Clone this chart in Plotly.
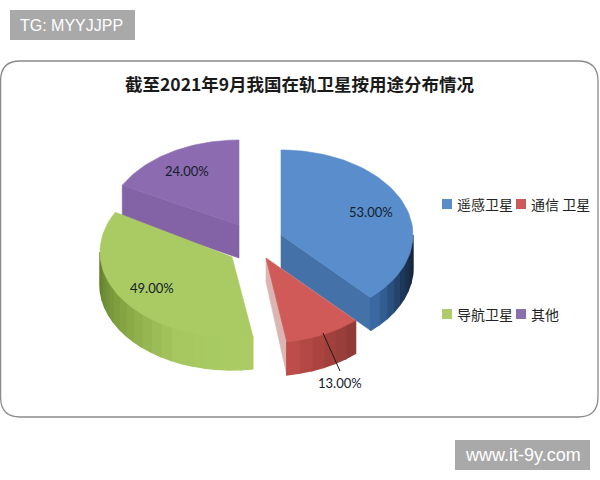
import math
import plotly.graph_objects as go

categories = ["遥感卫星", "通信卫星", "导航卫星", "其他"]
legend_labels = ["遥感卫星", "通信 卫星", "导航卫星", "其他"]
values = [53, 13, 49, 24]
title_text = "截至2021年9月我国在轨卫星按用途分布情况"

# style and layout (the canvas uses pixel-sized axis units)
RX, RY, DEPTH = 132, 85, 33
apexes = [(281, 235), (266, 258), (232, 257), (239, 225)]
arc_shift = [0, 0, -5, 0]
top_colors = ["#5a8dcb", "#cf5a57", "#aacb63", "#8c6bb0"]
radial_colors = ["#4472a8", None, None, "#8462a6"]
wall_stops = [
    [(90, "#2c4058"), (98, "#16243a"), (115, "#1f3a5e"), (128, "#2f5a8e"), (137.3, "#3f6fa8")],
    [(137, "#8c3a38"), (155, "#a8423f"), (171, "#c24f4c")],
    [(170, "#abcd65"), (205, "#a6c75f"), (240, "#80a040"), (271, "#5f7d2c")],
    None,
]
legend_colors = ["#5b8ec9", "#cc5a58", "#b0cb6b", "#8a6fae"]
legend_pos = [(447, 204), (521, 204), (447, 314), (521, 314)]
label_pos = [(371, 212), (340, 383), (152, 288), (187, 171)]
leader = ((323, 333), (340, 371))
CJK = "Noto Sans CJK SC"


def hex_rgb(c):
    return [int(c[i:i + 2], 16) for i in (1, 3, 5)]


def mix(stops, a):
    if a <= stops[0][0]:
        return stops[0][1]
    for (a0, c0), (a1, c1) in zip(stops, stops[1:]):
        if a <= a1:
            t = (a - a0) / (a1 - a0)
            r = [round(p + (q - p) * t) for p, q in zip(hex_rgb(c0), hex_rgb(c1))]
            return "rgb(%d,%d,%d)" % tuple(r)
    return stops[-1][1]


def pt(apex, a, dy=0):
    r = math.radians(a)
    return apex[0] + RX * math.sin(r), apex[1] - RY * math.cos(r) + dy


def poly(fig, pts, color, lw=0.6):
    xs = [p[0] for p in pts] + [pts[0][0]]
    ys = [p[1] for p in pts] + [pts[0][1]]
    fig.add_trace(go.Scatter(x=xs, y=ys, mode="lines", fill="toself", fillcolor=color,
                             line=dict(color=color, width=lw), hoverinfo="skip", showlegend=False))


total = sum(values)
bounds = []
acc = 0
for v in values:
    bounds.append((acc / total * 360, (acc + v) / total * 360))
    acc += v

fig = go.Figure()

for i in [3, 2, 0, 1]:
    a0, a1 = bounds[i]
    apex = apexes[i]
    centre = (apex[0], apex[1] + arc_shift[i])
    # radial side face
    if i == 0:
        poly(fig, [apex, pt(apex, a1), pt(apex, a1, DEPTH), (apex[0], apex[1] + DEPTH)], radial_colors[0])
    if i == 3:
        poly(fig, [apex, pt(apex, a0), pt(apex, a0, DEPTH), (apex[0], apex[1] + DEPTH)], radial_colors[3])
    if i == 1:
        poly(fig, [apex, pt(apex, a1), pt(apex, a1, DEPTH), (apex[0], apex[1] + 24)], "#dcb4b2")
    # outer wall, drawn back to front in overlapping bands for the shading
    if wall_stops[i]:
        w0, w1 = max(a0, 90), min(a1, 270)
        n = max(2, int((w1 - w0) / 5))
        for k in range(n):
            s = w0 + (w1 - w0) * k / n
            e = w0 + (w1 - w0) * (k + 1) / n
            m = 8
            top = [pt(centre, s + (e - s) * j / m) for j in range(m + 1)]
            bot = [pt(centre, e - (e - s) * j / m, DEPTH) for j in range(m + 1)]
            poly(fig, top + bot, mix(wall_stops[i], (s + e) / 2), lw=1.4)
    # top face
    arc = [pt(centre, a0 + (a1 - a0) * k / 60) for k in range(61)]
    poly(fig, [apex] + arc, top_colors[i])

# leader line of the small slice
fig.add_trace(go.Scatter(x=[leader[0][0], leader[1][0]], y=[leader[0][1], leader[1][1]], mode="lines",
                         line=dict(color="#1a1a1a", width=1), hoverinfo="skip", showlegend=False))

# legend squares
for (x, y), c in zip(legend_pos, legend_colors):
    fig.add_trace(go.Scatter(x=[x], y=[y], mode="markers",
                             marker=dict(symbol="square", size=10, color=c, line=dict(width=0)),
                             hoverinfo="skip", showlegend=False))

ann = []
for (x, y), v in zip(label_pos, values):
    ann.append(dict(x=x, y=y, text=f"{v:.2f}%", showarrow=False,
                    font=dict(family="Lato, Open Sans", size=13, color="#14202c")))
for (x, y), t in zip(legend_pos, legend_labels):
    ann.append(dict(x=x + 8, y=y, text=t, showarrow=False, xanchor="left",
                    font=dict(family=CJK, size=14, color="#222222")))
ann.append(dict(x=300, y=83, text=f"<b>{title_text}</b>", showarrow=False,
                font=dict(family=CJK, size=17.5, color="#1a1a1a")))
ann.append(dict(x=18, y=25, text="TG: MYYJJPP", showarrow=False, xanchor="left",
                font=dict(family="Liberation Sans", size=16, color="#ffffff")))
ann.append(dict(x=522.5, y=455, text="www.it-9y.com", showarrow=False,
                font=dict(family="Liberation Sans", size=18, color="#ffffff")))

R = 20
shapes = [
    dict(type="path", layer="below",
         path=f"M 0.6 {61 + R} Q 0.6 61 {R} 61 L {598 - R} 61 Q 598 61 598 {61 + R} "
              f"L 598 {417 - R} Q 598 417 {598 - R} 417 L {R} 417 Q 0.6 417 0.6 {417 - R} Z",
         line=dict(color="#8a8a8a", width=1.3), fillcolor="#ffffff"),
    dict(type="rect", layer="below", x0=10, x1=135, y0=10, y1=40, fillcolor="#a9a9a9", line=dict(width=0)),
    dict(type="rect", layer="below", x0=455, x1=590, y0=440, y1=470, fillcolor="#a9a9a9", line=dict(width=0)),
]

fig.update_layout(
    width=600, height=480, autosize=False,
    margin=dict(l=0, r=0, t=0, b=0),
    paper_bgcolor="#ffffff", plot_bgcolor="#ffffff",
    xaxis=dict(range=[0, 600], visible=False, fixedrange=True),
    yaxis=dict(range=[480, 0], visible=False, fixedrange=True),
    shapes=shapes, annotations=ann, showlegend=False,
)
fig.write_html("out.html", config={"displayModeBar": False},
               post_script="document.body.style.margin='0';document.body.style.overflow='hidden';")
